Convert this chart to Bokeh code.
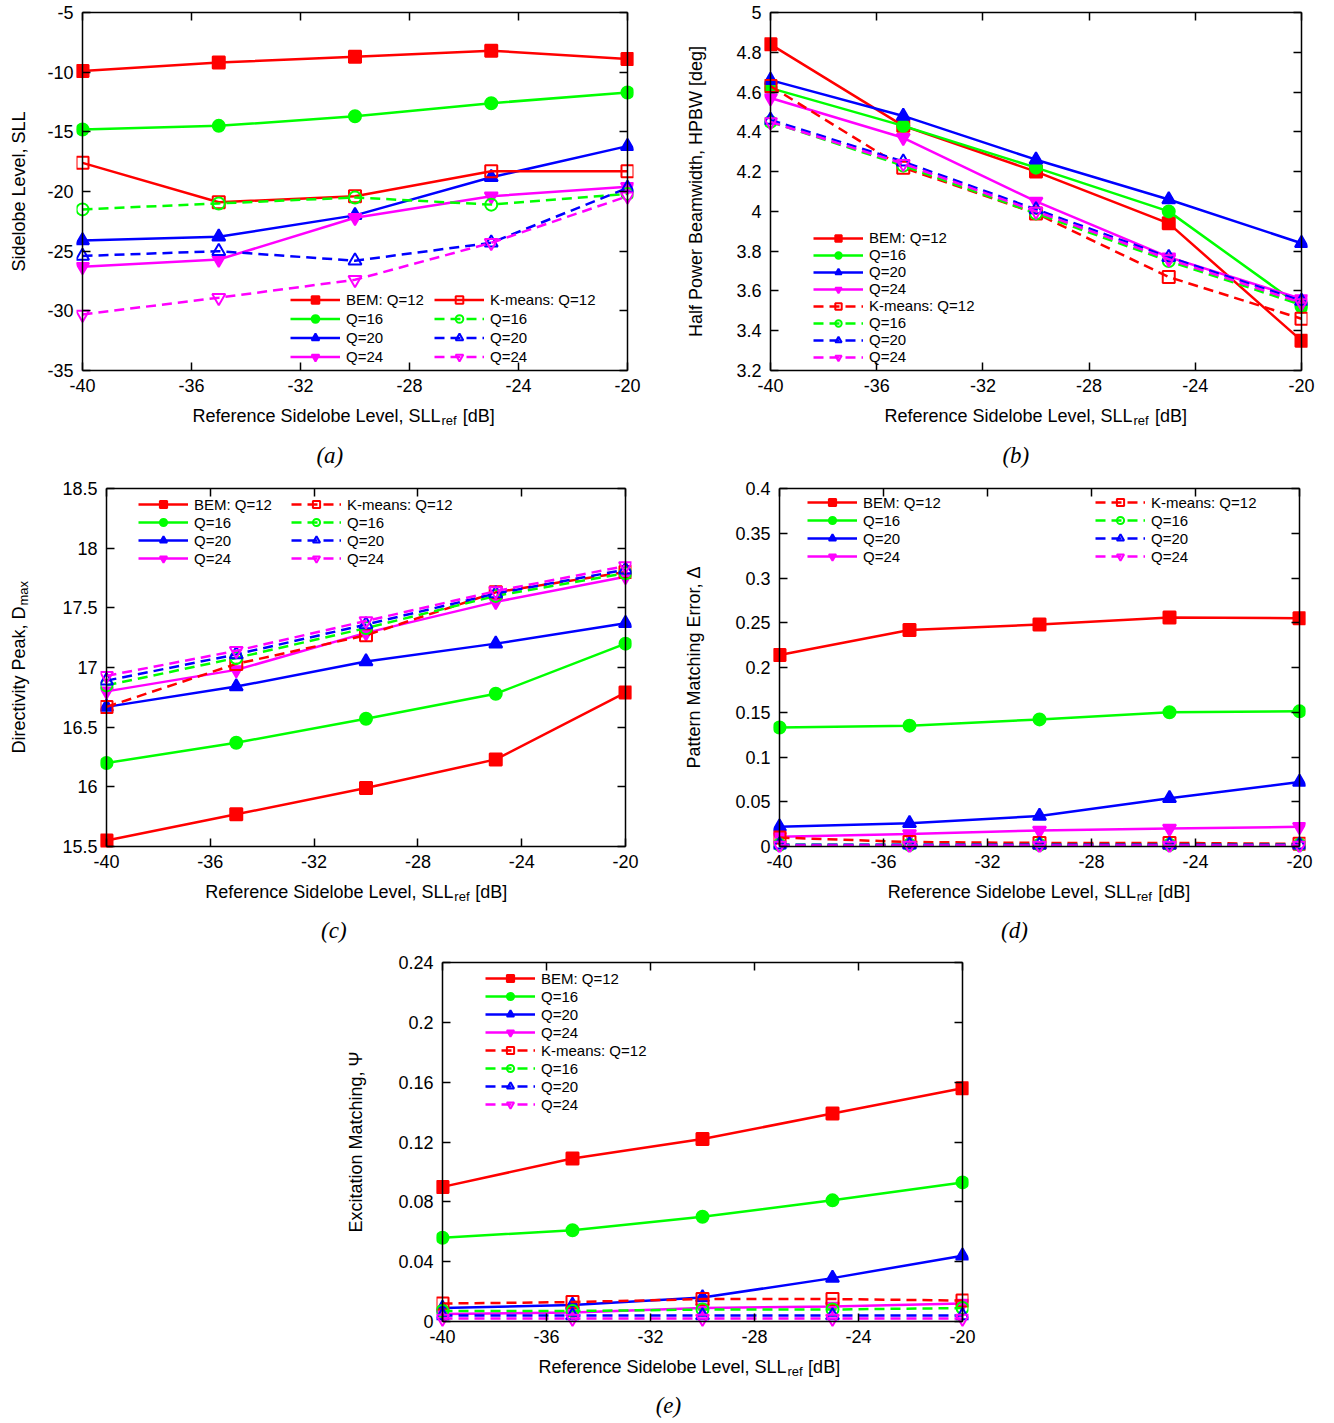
import math
from bokeh.plotting import figure
from bokeh.layouts import row, column, Spacer
from bokeh.models import LinearAxis, FixedTicker, Range1d, Legend, LegendItem
from bokeh.core.properties import value
from bokeh.embed import file_html
from bokeh.resources import INLINE

# ---------------- data ----------------
sll_ref = [-40, -35, -30, -25, -20]
x_ticks = [-40, -36, -32, -28, -24, -20]
x_tick_labels = ["-40", "-36", "-32", "-28", "-24", "-20"]

bem_labels = ["BEM: Q=12", "Q=16", "Q=20", "Q=24"]
km_labels = ["K-means: Q=12", "Q=16", "Q=20", "Q=24"]

# (a) Sidelobe level
a_bem_q12 = [-9.9, -9.2, -8.7, -8.2, -8.9]
a_bem_q16 = [-14.8, -14.5, -13.7, -12.6, -11.7]
a_bem_q20 = [-24.1, -23.8, -22.0, -18.8, -16.2]
a_bem_q24 = [-26.3, -25.7, -22.2, -20.4, -19.6]
a_km_q12 = [-17.6, -20.9, -20.4, -18.3, -18.3]
a_km_q16 = [-21.5, -21.0, -20.5, -21.1, -20.2]
a_km_q20 = [-25.4, -25.0, -25.8, -24.3, -19.7]
a_km_q24 = [-30.3, -28.9, -27.4, -24.3, -20.4]
a_yticks = [-35, -30, -25, -20, -15, -10, -5]
a_ytick_labels = ["-35", "-30", "-25", "-20", "-15", "-10", "-5"]

# (b) Half power beamwidth
b_bem_q12 = [4.84, 4.43, 4.20, 3.94, 3.35]
b_bem_q16 = [4.62, 4.43, 4.22, 4.00, 3.52]
b_bem_q20 = [4.66, 4.48, 4.26, 4.06, 3.84]
b_bem_q24 = [4.57, 4.37, 4.05, 3.77, 3.56]
b_km_q12 = [4.63, 4.22, 3.99, 3.67, 3.46]
b_km_q16 = [4.45, 4.23, 3.99, 3.75, 3.53]
b_km_q20 = [4.46, 4.25, 4.01, 3.77, 3.55]
b_km_q24 = [4.45, 4.24, 4.00, 3.76, 3.54]
b_yticks = [3.2, 3.4, 3.6, 3.8, 4.0, 4.2, 4.4, 4.6, 4.8, 5.0]
b_ytick_labels = ["3.2", "3.4", "3.6", "3.8", "4", "4.2", "4.4", "4.6", "4.8", "5"]

# (c) Directivity peak
c_bem_q12 = [15.55, 15.77, 15.99, 16.23, 16.79]
c_bem_q16 = [16.20, 16.37, 16.57, 16.78, 17.20]
c_bem_q20 = [16.67, 16.84, 17.05, 17.20, 17.37]
c_bem_q24 = [16.80, 16.98, 17.29, 17.55, 17.76]
c_km_q12 = [16.67, 17.03, 17.27, 17.63, 17.80]
c_km_q16 = [16.85, 17.08, 17.33, 17.60, 17.79]
c_km_q20 = [16.89, 17.11, 17.36, 17.62, 17.82]
c_km_q24 = [16.93, 17.14, 17.39, 17.64, 17.85]
c_yticks = [15.5, 16.0, 16.5, 17.0, 17.5, 18.0, 18.5]
c_ytick_labels = ["15.5", "16", "16.5", "17", "17.5", "18", "18.5"]

# (d) Pattern matching error
d_bem_q12 = [0.214, 0.242, 0.248, 0.256, 0.255]
d_bem_q16 = [0.133, 0.135, 0.142, 0.150, 0.151]
d_bem_q20 = [0.022, 0.026, 0.034, 0.054, 0.072]
d_bem_q24 = [0.011, 0.014, 0.018, 0.020, 0.022]
d_km_q12 = [0.010, 0.005, 0.004, 0.004, 0.003]
d_km_q16 = [0.002, 0.002, 0.002, 0.002, 0.002]
d_km_q20 = [0.002, 0.002, 0.002, 0.002, 0.002]
d_km_q24 = [0.001, 0.001, 0.001, 0.001, 0.001]
d_yticks = [0.0, 0.05, 0.1, 0.15, 0.2, 0.25, 0.3, 0.35, 0.4]
d_ytick_labels = ["0", "0.05", "0.1", "0.15", "0.2", "0.25", "0.3", "0.35", "0.4"]

# (e) Excitation matching
e_bem_q12 = [0.090, 0.109, 0.122, 0.139, 0.156]
e_bem_q16 = [0.056, 0.061, 0.070, 0.081, 0.093]
e_bem_q20 = [0.009, 0.011, 0.016, 0.029, 0.044]
e_bem_q24 = [0.005, 0.006, 0.009, 0.010, 0.012]
e_km_q12 = [0.012, 0.013, 0.015, 0.015, 0.014]
e_km_q16 = [0.007, 0.007, 0.008, 0.008, 0.009]
e_km_q20 = [0.004, 0.004, 0.004, 0.004, 0.004]
e_km_q24 = [0.002, 0.002, 0.002, 0.002, 0.002]
e_yticks = [0.0, 0.04, 0.08, 0.12, 0.16, 0.2, 0.24]
e_ytick_labels = ["0", "0.04", "0.08", "0.12", "0.16", "0.2", "0.24"]

# ---------------- style ----------------
COLORS = ["#ff0000", "#00ff00", "#0000ff", "#ff00ff"]
MARKERS = ["square", "circle", "triangle", "inverted_triangle"]
MSIZE = [12, 12, 13, 13]
FONT = "Liberation Sans"
SERIF = "Liberation Serif"
TICK_FS = "18px"
LAB_FS = "18px"
SUB_FS = "13px"
LEG_FS = "15px"
DASH = "10 6"
M = 6  # frame padding so that edge markers are not clipped


def frame_axis(ax):
    # box line + inward ticks, no labels
    ax.axis_line_color = "black"
    ax.axis_line_width = 1.5
    ax.major_tick_in = 8
    ax.major_tick_out = 0
    ax.major_tick_line_color = "black"
    ax.major_tick_line_width = 1.5
    ax.minor_tick_line_color = None
    ax.major_label_text_font_size = "1px"
    ax.major_label_text_color = None
    ax.major_label_standoff = 0


def label_axis(ax, standoff):
    # tick labels only
    ax.axis_line_color = None
    ax.major_tick_line_color = None
    ax.minor_tick_line_color = None
    ax.major_tick_in = 0
    ax.major_tick_out = 0
    ax.major_label_text_font = FONT
    ax.major_label_text_font_size = TICK_FS
    ax.major_label_text_color = "black"
    ax.major_label_standoff = standoff


def make_fig(width, height, bl, br, bt, box_w, box_h, yr, yticks, ylabels):
    xe = M * 20.0 / box_w
    ye = M * (yr[1] - yr[0]) / box_h
    p = figure(width=width, height=height,
               x_range=Range1d(-40 - xe, -20 + xe),
               y_range=Range1d(yr[0] - ye, yr[1] + ye),
               output_backend="svg", toolbar_location=None,
               x_axis_location=None, y_axis_location=None,
               min_border_left=bl, min_border_right=br,
               min_border_top=bt, min_border_bottom=30)
    p.grid.visible = False
    p.outline_line_color = None
    p.background_fill_color = "white"
    p.border_fill_color = "white"

    # tick-label axes (at the frame edge, next to the box)
    xlab = LinearAxis(ticker=FixedTicker(ticks=x_ticks),
                      major_label_overrides=dict(zip(x_ticks, x_tick_labels)))
    label_axis(xlab, 2)
    p.add_layout(xlab, "below")
    ylab = LinearAxis(ticker=FixedTicker(ticks=yticks),
                      major_label_overrides=dict(zip(yticks, ylabels)))
    label_axis(ylab, 3)
    p.add_layout(ylab, "left")

    # box with mirrored inward ticks
    xb = LinearAxis(ticker=FixedTicker(ticks=x_ticks), fixed_location=yr[0], bounds=(-40, -20),
                    major_label_overrides={t: "" for t in x_ticks})
    frame_axis(xb)
    p.add_layout(xb, "below")
    xt = LinearAxis(ticker=FixedTicker(ticks=x_ticks), fixed_location=yr[1], bounds=(-40, -20),
                    major_label_overrides={t: "" for t in x_ticks})
    frame_axis(xt)
    p.add_layout(xt, "above")
    yl = LinearAxis(ticker=FixedTicker(ticks=yticks), fixed_location=-40, bounds=yr,
                    major_label_overrides={t: "" for t in yticks})
    frame_axis(yl)
    p.add_layout(yl, "left")
    yrr = LinearAxis(ticker=FixedTicker(ticks=yticks), fixed_location=-20, bounds=yr,
                     major_label_overrides={t: "" for t in yticks})
    frame_axis(yrr)
    p.add_layout(yrr, "right")
    return p


def text_fig(w, h):
    f = figure(width=w, height=h, x_range=Range1d(0, w), y_range=Range1d(0, h),
               output_backend="svg", toolbar_location=None,
               x_axis_location=None, y_axis_location=None, min_border=0)
    f.grid.visible = False
    f.outline_line_color = None
    f.background_fill_color = "white"
    f.border_fill_color = "white"
    return f


def draw_series(p, ys, i, filled, dashed):
    c = COLORS[i]
    ln = p.line(sll_ref, ys, line_color=c, line_width=2.5,
                line_dash=DASH if dashed else "solid")
    sc = p.scatter(sll_ref, ys, marker=MARKERS[i], size=MSIZE[i],
                   line_color=c, line_width=2,
                   fill_color=c if filled else None)
    return [ln, sc]


def add_legend(p, labels, rends, loc, gh):
    items = [LegendItem(label=lab, renderers=r) for lab, r in zip(labels, rends)]
    leg = Legend(items=items, location=loc, orientation="vertical",
                 background_fill_alpha=0, border_line_color=None,
                 label_text_font=FONT, label_text_font_size=LEG_FS,
                 label_text_color="black",
                 glyph_width=50, glyph_height=gh, label_height=gh,
                 spacing=0, padding=0, margin=0, label_standoff=6)
    p.add_layout(leg)


def xlabel_fig(w, h, cx, ly, cap_x, cap_y, cap):
    f = text_fig(w, h)
    anchor = cx + 95
    f.text(x=[anchor], y=[ly], text=["Reference Sidelobe Level, SLL"],
           text_align="right", text_baseline="middle",
           text_font=value(FONT), text_font_size=value(LAB_FS), text_color="black")
    f.text(x=[anchor + 1], y=[ly - 5], text=["ref"],
           text_align="left", text_baseline="middle",
           text_font=value(FONT), text_font_size=value(SUB_FS), text_color="black")
    f.text(x=[anchor + 25], y=[ly], text=["[dB]"],
           text_align="left", text_baseline="middle",
           text_font=value(FONT), text_font_size=value(LAB_FS), text_color="black")
    f.text(x=[cap_x], y=[cap_y], text=[cap],
           text_align="center", text_baseline="middle",
           text_font=value(SERIF), text_font_style="italic",
           text_font_size=value("23px"), text_color="black")
    return f


def ylabel_fig(w, h, lx, ly, text):
    f = text_fig(w, h)
    f.text(x=[lx], y=[ly], text=[text], angle=math.pi / 2,
           text_align="center", text_baseline="middle",
           text_font=value(FONT), text_font_size=value(LAB_FS), text_color="black")
    return f


# ---------------- panel (a) ----------------
pa = make_fig(631, 406, 40, 34, 6, 543, 358, (-35, -5), a_yticks, a_ytick_labels)
ra = [draw_series(pa, s, i, True, False)
      for i, s in enumerate([a_bem_q12, a_bem_q16, a_bem_q20, a_bem_q24])]
rak = [draw_series(pa, s, i, False, i != 0)
       for i, s in enumerate([a_km_q12, a_km_q16, a_km_q20, a_km_q24])]
add_legend(pa, bem_labels, ra, (214, 10), 19)
add_legend(pa, km_labels, rak, (358, 10), 19)
xa = xlabel_fig(631, 70, 317.5, 61, 287, 21, "(a)")
ya = ylabel_fig(36, 476, 18, 285, "Sidelobe Level, SLL")
panel_a = row(ya, column(pa, xa))

# ---------------- panel (b) ----------------
pb = make_fig(607, 406, 45, 19, 6, 531, 358, (3.2, 5.0), b_yticks, b_ytick_labels)
rb = [draw_series(pb, s, i, True, False)
      for i, s in enumerate([b_bem_q12, b_bem_q16, b_bem_q20, b_bem_q24])]
rbk = [draw_series(pb, s, i, False, True)
       for i, s in enumerate([b_km_q12, b_km_q16, b_km_q20, b_km_q24])]
add_legend(pb, bem_labels + km_labels, rb + rbk, (49, 11), 16)
xb_ = xlabel_fig(607, 70, 316.5, 61, 281, 21, "(b)")
yb_ = ylabel_fig(52, 476, 28, 285, "Half Power Beamwidth, HPBW [deg]")
panel_b = row(yb_, column(pb, xb_))

# ---------------- panel (c) ----------------
pc = make_fig(610, 406, 45, 34, 6, 519, 358, (15.5, 18.5), c_yticks, c_ytick_labels)
rc = [draw_series(pc, s, i, True, False)
      for i, s in enumerate([c_bem_q12, c_bem_q16, c_bem_q20, c_bem_q24])]
rck = [draw_series(pc, s, i, False, True)
       for i, s in enumerate([c_km_q12, c_km_q16, c_km_q20, c_km_q24])]
add_legend(pc, bem_labels, rc, (38, 285), 18)
add_legend(pc, km_labels, rck, (191, 285), 18)
xc = xlabel_fig(610, 68, 310.5, 59, 268, 20, "(c)")
yc = text_fig(55, 474)
c_anchor = 283 - 86 + 147
yc.text(x=[18], y=[c_anchor], text=["Directivity Peak, D"], angle=math.pi / 2,
        text_align="right", text_baseline="middle",
        text_font=value(FONT), text_font_size=value(LAB_FS), text_color="black")
yc.text(x=[23], y=[c_anchor + 1], text=["max"], angle=math.pi / 2,
        text_align="left", text_baseline="middle",
        text_font=value(FONT), text_font_size=value(SUB_FS), text_color="black")
panel_c = row(yc, column(pc, xc))

# ---------------- panel (d) ----------------
pd_ = make_fig(596, 406, 45, 19, 6, 520, 358, (0, 0.4), d_yticks, d_ytick_labels)
rd = [draw_series(pd_, s, i, True, False)
      for i, s in enumerate([d_bem_q12, d_bem_q16, d_bem_q20, d_bem_q24])]
rdk = [draw_series(pd_, s, i, False, True)
       for i, s in enumerate([d_km_q12, d_km_q16, d_km_q20, d_km_q24])]
add_legend(pd_, bem_labels, rd, (34, 287), 18)
add_legend(pd_, km_labels, rdk, (322, 287), 18)
xd = xlabel_fig(596, 68, 311, 59, 270, 20, "(d)")
yd = ylabel_fig(63, 474, 28, 283, "Pattern Matching Error, \u0394")
panel_d = row(yd, column(pd_, xd))

# ---------------- panel (e) ----------------
pe = make_fig(617, 407, 45, 40, 6, 520, 359, (0, 0.24), e_yticks, e_ytick_labels)
re_ = [draw_series(pe, s, i, True, False)
       for i, s in enumerate([e_bem_q12, e_bem_q16, e_bem_q20, e_bem_q24])]
rek = [draw_series(pe, s, i, False, True)
       for i, s in enumerate([e_km_q12, e_km_q16, e_km_q20, e_km_q24])]
add_legend(pe, bem_labels + km_labels, re_ + rek, (49, 214), 18)
xe_ = xlabel_fig(617, 63, 311, 54, 269, 15, "(e)")
ye_ = ylabel_fig(54, 470, 18, 278.5, "Excitation Matching, \u03a8")
panel_e = row(Spacer(width=337, height=470), ye_, column(pe, xe_))

layout = column(row(panel_a, panel_b), row(panel_c, panel_d), panel_e)

open("out.html", "w").write(file_html(layout, INLINE))
